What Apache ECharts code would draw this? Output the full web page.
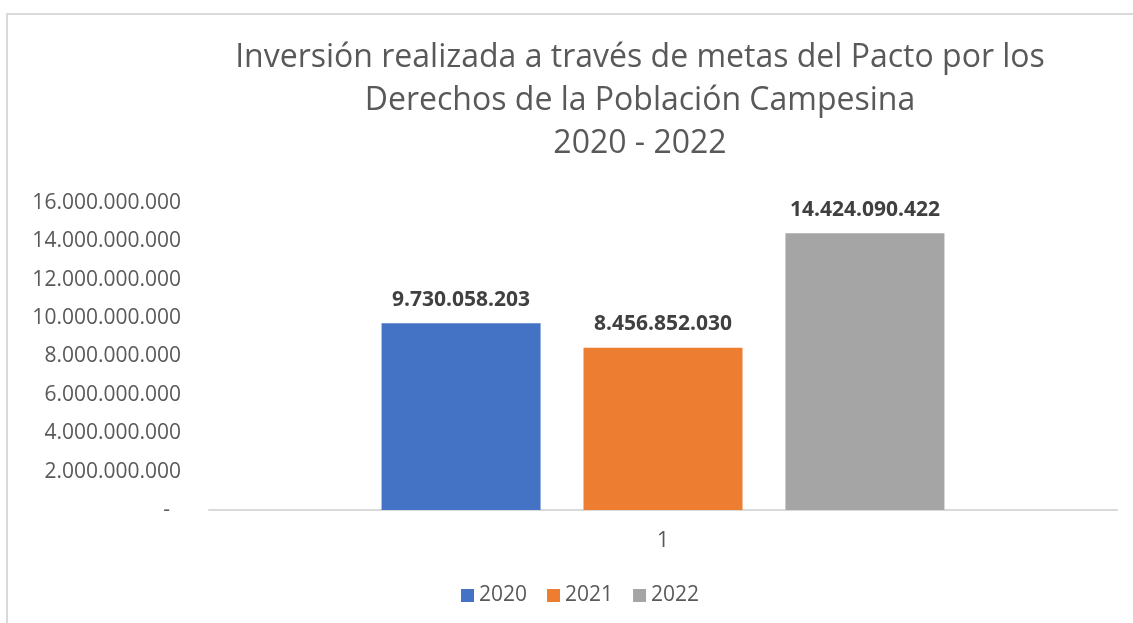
<!DOCTYPE html>
<html>
<head>
<meta charset="utf-8">
<script src="https://cdn.jsdelivr.net/npm/echarts@6/dist/echarts.min.js"></script>
<style>
html, body { margin: 0; padding: 0; background: #fff; }
#chart { width: 1133px; height: 623px; position: relative; }
#frame {
    position: absolute; left: 6px; top: 13px; right: 0; bottom: 0;
    border-left: 2px solid #d9d9d9; border-top: 2px solid #d9d9d9;
    pointer-events: none;
}
</style>
</head>
<body>
<div id="chart"></div>
<div id="frame"></div>
<script>
// datos
const categorias = ['1'];
const anios = ['2020', '2021', '2022'];
const valores2020 = [9730058203];
const valores2021 = [8456852030];
const valores2022 = [14424090422];
const colores = ['#4472C4', '#ED7D31', '#A5A5A5'];

const fuente = 'Open Sans';

// formato con puntos de miles
function miles(v) {
    if (v === 0) return '-  ';
    return String(Math.round(v)).replace(/\B(?=(\d{3})+(?!\d))/g, '.');
}

let myChart = echarts.init(document.getElementById('chart'));

let serie = function (nombre, datos, color) {
    return {
        name: nombre,
        type: 'bar',
        data: datos,
        barWidth: 159,
        barGap: '27%',
        itemStyle: { color: color },
        label: {
            show: true,
            position: 'top',
            distance: 13,
            color: '#404040',
            fontFamily: fuente,
            fontWeight: 'bold',
            fontSize: 21,
            formatter: p => miles(p.value)
        }
    };
};

let option = {
    animation: false,
    textStyle: { fontFamily: fuente },
    title: {
        text: 'Inversión realizada a través de metas del Pacto por los\nDerechos de la Población Campesina\n2020 - 2022',
        left: 635,
        top: 31,
        textAlign: 'center',
        textStyle: {
            color: '#595959',
            fontFamily: fuente,
            fontWeight: 'normal',
            fontSize: 32,
            lineHeight: 43
        }
    },
    legend: {
        data: anios,
        bottom: 12,
        left: 456,
        itemWidth: 13,
        itemHeight: 13,
        itemGap: 20,
        icon: 'rect',
        textStyle: { color: '#595959', fontFamily: fuente, fontSize: 21 }
    },
    grid: {
        left: 209,
        right: 16,
        top: 203,
        bottom: 113,
        containLabel: false
    },
    xAxis: {
        type: 'category',
        data: categorias,
        axisTick: { show: false },
        axisLine: { lineStyle: { color: '#d9d9d9', width: 2 } },
        axisLabel: { color: '#595959', fontFamily: fuente, fontSize: 21, margin: 21 }
    },
    yAxis: {
        type: 'value',
        min: 0,
        max: 16000000000,
        interval: 2000000000,
        splitLine: { show: false },
        axisLine: { show: false },
        axisTick: { show: false },
        axisLabel: {
            color: '#595959',
            fontFamily: fuente,
            fontSize: 21,
            margin: 28,
            formatter: miles
        }
    },
    series: [
        serie(anios[0], valores2020, colores[0]),
        serie(anios[1], valores2021, colores[1]),
        serie(anios[2], valores2022, colores[2])
    ]
};
myChart.setOption(option);
</script>
</body>
</html>
